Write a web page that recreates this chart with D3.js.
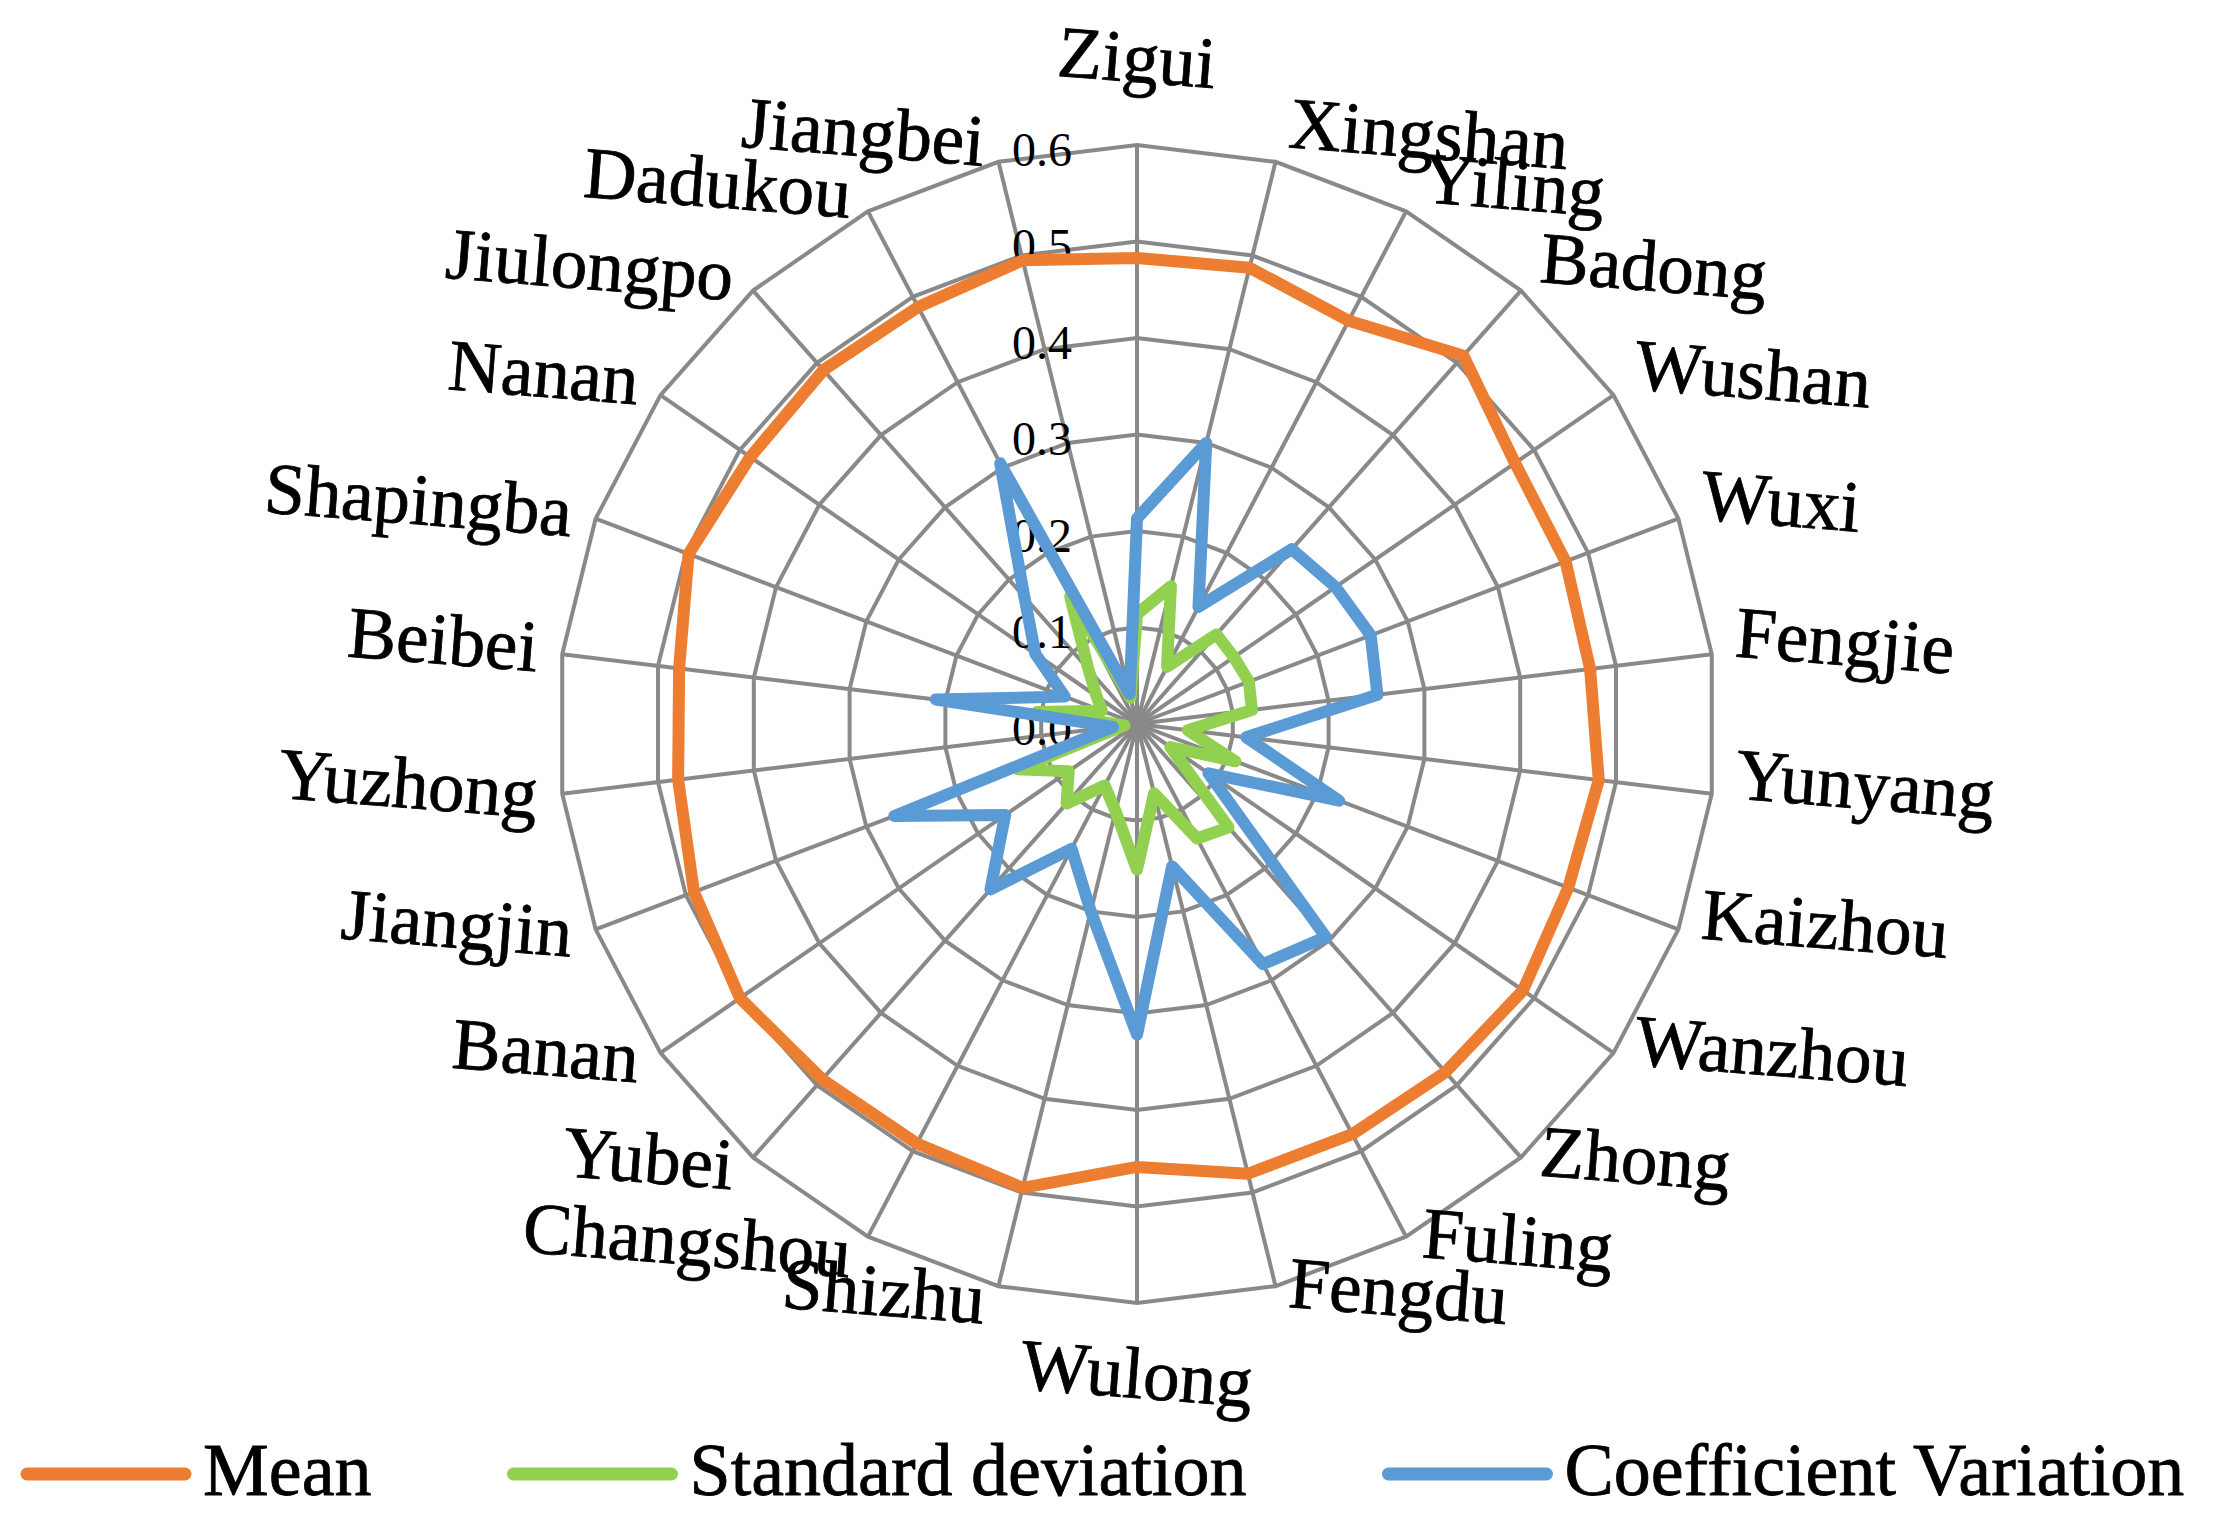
<!DOCTYPE html>
<html>
<head>
<meta charset="utf-8">
<script src="https://cdn.jsdelivr.net/npm/d3@7"></script>
<style>
  body { margin: 0; background: #fff; }
  text { font-family: "Liberation Serif", "Times New Roman", serif; fill: #000; }
  .big { stroke: #000; stroke-width: 0.8px; }
</style>
</head>
<body>
<div id="chart"></div>
<script>
const districts = ["Zigui", "Xingshan", "Yiling", "Badong", "Wushan", "Wuxi", "Fengjie",
    "Yunyang", "Kaizhou", "Wanzhou", "Zhong", "Fuling", "Fengdu", "Wulong", "Shizhu",
    "Changshou", "Yubei", "Banan", "Jiangjin", "Yuzhong", "Beibei", "Shapingba", "Nanan",
    "Jiulongpo", "Dadukou", "Jiangbei"]

const meanVals = [0.483, 0.487, 0.472, 0.510, 0.476, 0.475, 0.473, 0.482, 0.478, 0.486,
    0.482, 0.480, 0.480, 0.459, 0.495, 0.491, 0.492, 0.500, 0.491, 0.479, 0.478, 0.497,
    0.487, 0.490, 0.488, 0.495]
const sdVals = [0.114, 0.147, 0.067, 0.124, 0.122, 0.124, 0.120, 0.053, 0.109, 0.042,
    0.143, 0.134, 0.074, 0.151, 0.093, 0.072, 0.110, 0.086, 0.132, 0.013, 0.104, 0.039,
    0.051, 0.076, 0.149, 0.028]
const cvVals = [0.213, 0.300, 0.137, 0.242, 0.250, 0.259, 0.251, 0.114, 0.224, 0.090,
    0.295, 0.281, 0.152, 0.322, 0.200, 0.146, 0.229, 0.166, 0.269, 0.025, 0.210, 0.080,
    0.128, 0.176, 0.305, 0.032]

const ticks = [0.0, 0.1, 0.2, 0.3, 0.4, 0.5, 0.6]
const seriesNames = ["Mean", "Standard deviation", "Coefficient Variation"]
const seriesColors = ["#ED7D31", "#92D050", "#5B9BD5"]

const W = 2213, H = 1536
const cx = 1137, cy = 724, R = 579
const step = 2 * Math.PI / districts.length

const r = d3.scaleLinear().domain([0, 0.6]).range([0, R])

const svg = d3.select("#chart").append("svg")
    .attr("width", W)
    .attr("height", H)
    .attr("viewBox", [0, 0, W, H])

svg.append("rect").attr("width", W).attr("height", H).attr("fill", "#fff")

const g = svg.append("g").attr("transform", `translate(${cx},${cy})`)

// grid polygons
const ring = d3.lineRadial()
    .angle((d, i) => i * step)
    .radius(d => r(d))
    .curve(d3.curveLinearClosed)

g.append("g")
    .selectAll("path")
    .data(ticks.slice(1))
    .enter()
    .append("path")
    .attr("d", t => ring(districts.map(() => t)))
    .attr("fill", "none")
    .attr("stroke", "#898989")
    .attr("stroke-width", 4)

// spokes
g.append("g")
    .selectAll("line")
    .data(districts)
    .enter()
    .append("line")
    .attr("x1", 0).attr("y1", 0)
    .attr("x2", (d, i) => r(0.6) * Math.sin(i * step))
    .attr("y2", (d, i) => -r(0.6) * Math.cos(i * step))
    .attr("stroke", "#898989")
    .attr("stroke-width", 4)

// value axis labels
g.append("g")
    .selectAll("text")
    .data(ticks)
    .enter()
    .append("text")
    .attr("x", -65)
    .attr("y", t => -r(t) + 4)
    .attr("text-anchor", "end")
    .attr("dominant-baseline", "central")
    .attr("font-size", 48)
    .text(t => t.toFixed(1))

// series
const series = [meanVals, sdVals, cvVals]
g.append("g")
    .selectAll("path")
    .data(series)
    .enter()
    .append("path")
    .attr("d", s => ring(s))
    .attr("fill", "none")
    .attr("stroke", (s, i) => seriesColors[i])
    .attr("stroke-width", 12)
    .attr("stroke-linejoin", "round")
    .attr("stroke-linecap", "round")

// category labels, tilted a little like the original
g.append("g")
    .selectAll("text")
    .data(districts)
    .enter()
    .append("text")
    .attr("class", "big")
    .attr("font-size", 73)
    .text(d => d)
    .each(function (d, i) {
        const s = Math.sin(i * step), c = Math.cos(i * step)
        const ex = R * s, ey = -R * c
        let x, yc, anchor
        if (Math.abs(s) < 0.05) {
            anchor = "middle"
            x = ex
            yc = ey - c * 79
        } else if (s > 0) {
            anchor = "start"
            x = ex + 10 + 14 * s
            yc = ey - 3 - 17 * c
        } else {
            anchor = "end"
            x = ex - 10 + 14 * s
            yc = ey - 4 - 18 * c
        }
        d3.select(this)
            .attr("text-anchor", anchor)
            .attr("x", x)
            .attr("y", yc + 16)
        const b = this.getBBox()
        d3.select(this).attr("transform",
            `rotate(4.5, ${b.x + b.width / 2}, ${b.y + b.height / 2})`)
    })

// legend
const legend = svg.append("g")
let lx = 21
seriesNames.forEach((name, i) => {
    legend.append("line")
        .attr("x1", lx + 6).attr("x2", lx + 164)
        .attr("y1", 1474).attr("y2", 1474)
        .attr("stroke", seriesColors[i])
        .attr("stroke-width", 13)
        .attr("stroke-linecap", "round")
    const t = legend.append("text")
        .attr("class", "big")
        .attr("x", lx + 182)
        .attr("y", 1495)
        .attr("font-size", 74)
        .text(name)
    lx = lx + 182 + t.node().getComputedTextLength() + 136
})
</script>
</body>
</html>
